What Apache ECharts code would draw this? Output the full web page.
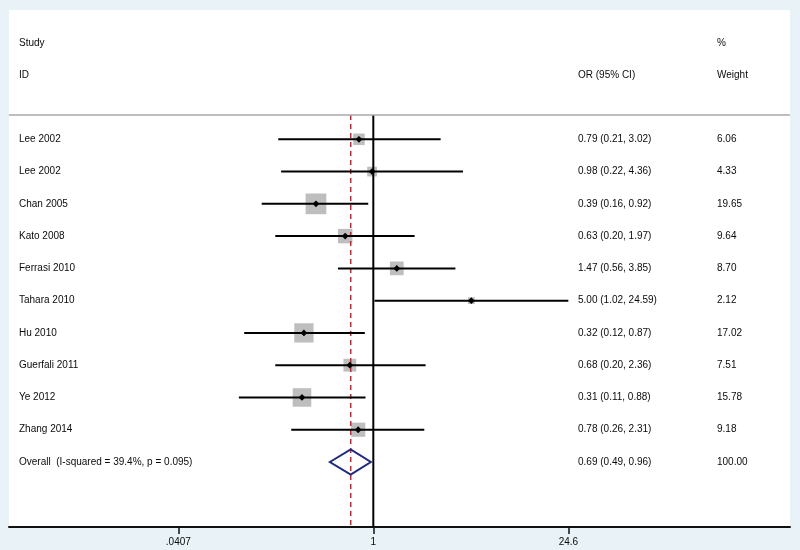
<!DOCTYPE html>
<html>
<head>
<meta charset="utf-8">
<script src="https://cdn.jsdelivr.net/npm/echarts@6/dist/echarts.min.js"></script>
<style>
html,body{margin:0;padding:0;background:#e9f2f6;}
#chart{width:800px;height:550px;}
</style>
</head>
<body>
<div id="chart"></div>
<script>
// ---- data ----
const studies = ['Lee 2002','Lee 2002','Chan 2005','Kato 2008','Ferrasi 2010','Tahara 2010','Hu 2010','Guerfali 2011','Ye 2012','Zhang 2014'];
const orValues = [0.79,0.98,0.39,0.63,1.47,5.00,0.32,0.68,0.31,0.78];
const ciLower  = [0.21,0.22,0.16,0.20,0.56,1.02,0.12,0.20,0.11,0.26];
const ciUpper  = [3.02,4.36,0.92,1.97,3.85,24.59,0.87,2.36,0.88,2.31];
const weights  = [6.06,4.33,19.65,9.64,8.70,2.12,17.02,7.51,15.78,9.18];
const overallLabel = 'Overall  (I-squared = 39.4%, p = 0.095)';
const overallEstimate = [0.69, 0.49, 0.96];
const overallWeight = 100.00;
const tickValues = [0.0407, 1, 24.6];
const tickLabels = ['.0407', '1', '24.6'];
const headerLabels = ['Study', 'ID', 'OR (95% CI)', '%', 'Weight'];

// ---- helpers ----
const FONT = '10px "Liberation Sans", Arial, sans-serif';
const TXT = '#0a0a0a';
const ln = Math.log;
const fmtCI = (o, l, h) => o.toFixed(2) + ' (' + l.toFixed(2) + ', ' + h.toFixed(2) + ')';

const studyData = studies.map((s, i) => [ln(orValues[i]), i, ln(ciLower[i]), ln(ciUpper[i]), weights[i], i]);
const overallRow = studies.length;

const chart = echarts.init(document.getElementById('chart'), null, {renderer: 'canvas'});

function txt(x, y, text) {
  return {type: 'text', x: x, y: y, style: {text: text, fill: TXT, font: FONT, verticalAlign: 'middle', align: 'left'}};
}

const option = {
  backgroundColor: '#e9f2f6',
  animation: false,
  grid: {left: 9, right: 10, top: 115, bottom: 23},
  xAxis: {
    type: 'value',
    min: -5.982, max: 6.842,
    splitLine: {show: false},
    axisLine: {show: true, onZero: false, lineStyle: {color: '#111', width: 2}},
    axisTick: {show: true, length: 7, lineStyle: {color: '#111', width: 1.5},
      customValues: tickValues.map(v => ln(v))},
    axisLabel: {show: true, color: TXT, fontSize: 10, fontFamily: '"Liberation Sans", Arial, sans-serif', margin: 10,
      customValues: tickValues.map(v => ln(v)),
      formatter: function (val) {
        let best = 0, d = Infinity;
        tickValues.forEach((t, k) => { const dd = Math.abs(ln(t) - val); if (dd < d) { d = dd; best = k; } });
        return tickLabels[best];
      }}
  },
  yAxis: {
    type: 'value', inverse: true, min: -0.753, max: 12.014, show: false
  },
  graphic: [
    {type: 'rect', z: -100, silent: true, shape: {x: 9, y: 10, width: 781, height: 517}, style: {fill: '#ffffff'}},
    {type: 'line', z: 10, silent: true, shape: {x1: 9, y1: 115, x2: 790, y2: 115}, style: {stroke: '#a8a8a8', lineWidth: 1.5}},
    {type: 'text', x: 19, y: 43, style: {text: headerLabels[0], fill: TXT, font: FONT, verticalAlign: 'middle'}},
    {type: 'text', x: 19, y: 75, style: {text: headerLabels[1], fill: TXT, font: FONT, verticalAlign: 'middle'}},
    {type: 'text', x: 578, y: 75, style: {text: headerLabels[2], fill: TXT, font: FONT, verticalAlign: 'middle'}},
    {type: 'text', x: 717, y: 43, style: {text: headerLabels[3], fill: TXT, font: FONT, verticalAlign: 'middle'}},
    {type: 'text', x: 717, y: 75, style: {text: headerLabels[4], fill: TXT, font: FONT, verticalAlign: 'middle'}}
  ],
  series: [
    {
      // weight boxes
      type: 'custom', z: 1, silent: true,
      data: studyData,
      renderItem: function (params, api) {
        const c = api.coord([api.value(0), api.value(1)]);
        const s = 4.67 * Math.sqrt(api.value(4));
        return {type: 'rect', shape: {x: c[0] - s / 2, y: c[1] - s / 2, width: s, height: s}, style: {fill: '#bebebe'}};
      }
    },
    {
      // reference lines: null (1) and overall estimate
      type: 'custom', z: 2, silent: true,
      data: [[ln(1), 0], [ln(overallEstimate[0]), 1]],
      renderItem: function (params, api) {
        const c = api.coord([api.value(0), 0]);
        const cs = params.coordSys;
        const dashed = api.value(1) === 1;
        return {type: 'line', shape: {x1: c[0], y1: cs.y, x2: c[0], y2: cs.y + cs.height},
          style: dashed ? {stroke: '#b0303a', lineWidth: 1.5, lineDash: [5, 4]} : {stroke: '#000', lineWidth: 2}};
      }
    },
    {
      // CI lines, point estimates and text columns
      type: 'custom', z: 3, silent: true,
      data: studyData,
      renderItem: function (params, api) {
        const i = api.value(5);
        const c = api.coord([api.value(0), api.value(1)]);
        const l = api.coord([api.value(2), api.value(1)]);
        const h = api.coord([api.value(3), api.value(1)]);
        const d = 3.4;
        return {type: 'group', children: [
          {type: 'line', shape: {x1: l[0], y1: l[1], x2: h[0], y2: h[1]}, style: {stroke: '#000', lineWidth: 2}},
          {type: 'polygon', shape: {points: [[c[0] - d, c[1]], [c[0], c[1] - d], [c[0] + d, c[1]], [c[0], c[1] + d]]}, style: {fill: '#000'}},
          txt(19, c[1], studies[i]),
          txt(578, c[1], fmtCI(orValues[i], ciLower[i], ciUpper[i])),
          txt(717, c[1], weights[i].toFixed(2))
        ]};
      }
    },
    {
      // overall diamond
      type: 'custom', z: 3, silent: true,
      data: [[ln(overallEstimate[0]), overallRow, ln(overallEstimate[1]), ln(overallEstimate[2])]],
      renderItem: function (params, api) {
        const c = api.coord([api.value(0), api.value(1)]);
        const l = api.coord([api.value(2), api.value(1)]);
        const h = api.coord([api.value(3), api.value(1)]);
        const hh = 12.5;
        return {type: 'group', children: [
          {type: 'polygon', shape: {points: [[l[0], c[1]], [c[0], c[1] - hh], [h[0], c[1]], [c[0], c[1] + hh]]},
            style: {fill: 'none', stroke: '#1f2a7c', lineWidth: 2}},
          txt(19, c[1], overallLabel),
          txt(578, c[1], fmtCI(overallEstimate[0], overallEstimate[1], overallEstimate[2])),
          txt(717, c[1], overallWeight.toFixed(2))
        ]};
      }
    }
  ]
};
chart.setOption(option);
</script>
</body>
</html>
